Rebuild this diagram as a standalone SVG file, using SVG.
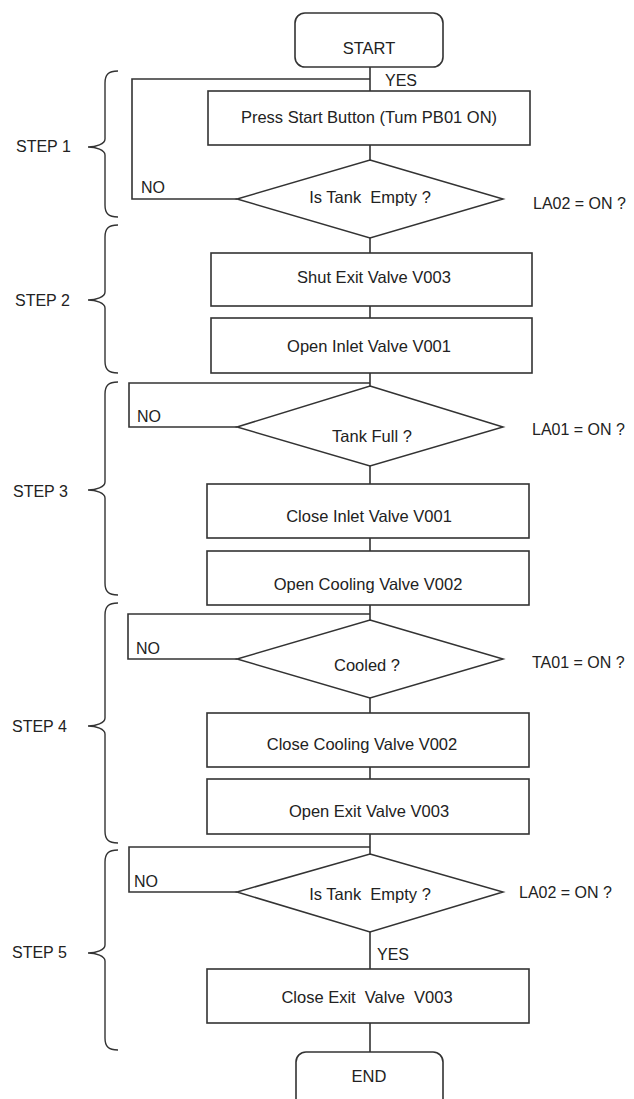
<svg xmlns="http://www.w3.org/2000/svg" width="634" height="1099" viewBox="0 0 634 1099">
<style>
  .box { fill: #ffffff; stroke: #333333; stroke-width: 1.6; }
  .dia { fill: #ffffff; stroke: #333333; stroke-width: 1.5; }
  .ln { fill: none; stroke: #333333; stroke-width: 1.6; }
  .brace { fill: none; stroke: #333333; stroke-width: 1.4; }
  text { font-family: "Liberation Sans", Arial, sans-serif; font-size: 16.5px; fill: #222222; white-space: pre; }
  .c { text-anchor: middle; }
  .s { font-size: 16px; }
</style>
<rect width="634" height="1099" fill="#ffffff"/>

<g id="connectors">
  <line class="ln" x1="370" y1="67" x2="370" y2="91"/>
  <polyline class="ln" points="237,199 132,199 132,79 370,79"/>
  <line class="ln" x1="370" y1="145" x2="370" y2="160"/>
  <line class="ln" x1="370" y1="238" x2="370" y2="253"/>
  <line class="ln" x1="370" y1="306" x2="370" y2="318"/>
  <line class="ln" x1="370" y1="373" x2="370" y2="386"/>
  <polyline class="ln" points="237,427 129,427 129,383 370,383"/>
  <line class="ln" x1="370" y1="466" x2="370" y2="484"/>
  <line class="ln" x1="370" y1="538" x2="370" y2="551"/>
  <line class="ln" x1="370" y1="605" x2="370" y2="620"/>
  <polyline class="ln" points="237,659 128,659 128,614 370,614"/>
  <line class="ln" x1="370" y1="698" x2="370" y2="713"/>
  <line class="ln" x1="370" y1="767" x2="370" y2="779"/>
  <line class="ln" x1="370" y1="834" x2="370" y2="854"/>
  <polyline class="ln" points="237,892 129,892 129,847 370,847"/>
  <line class="ln" x1="370" y1="932" x2="370" y2="969"/>
  <line class="ln" x1="370" y1="1023" x2="370" y2="1052"/>
  <text x="385" y="86" class="s">YES</text>
  <text x="141" y="193" class="s">NO</text>
  <text x="137" y="422" class="s">NO</text>
  <text x="136" y="654" class="s">NO</text>
  <text x="134" y="887" class="s">NO</text>
  <text x="377" y="960" class="s">YES</text>
</g>

<g id="start">
  <rect class="box" x="295" y="13" width="148" height="54" rx="10"/>
  <text x="369" y="54" class="c">START</text>
</g>

<g id="press-start">
  <rect class="box" x="208" y="91" width="322" height="54"/>
  <text x="369" y="123" class="c">Press Start Button (Tum PB01 ON)</text>
</g>

<g id="tank-empty-1">
  <polygon class="dia" points="370,160 503,199 370,238 237,199"/>
  <text x="370" y="203" class="c">Is Tank  Empty ?</text>
  <text x="533" y="209" class="s">LA02 = ON ?</text>
</g>

<g id="shut-exit">
  <rect class="box" x="211" y="253" width="321" height="53"/>
  <text x="374" y="283" class="c">Shut Exit Valve V003</text>
</g>

<g id="open-inlet">
  <rect class="box" x="211" y="318" width="321" height="55"/>
  <text x="369" y="352" class="c">Open Inlet Valve V001</text>
</g>

<g id="tank-full">
  <polygon class="dia" points="370,386 503,427 370,466 237,427"/>
  <text x="372" y="442" class="c">Tank Full ?</text>
  <text x="532" y="435" class="s">LA01 = ON ?</text>
</g>

<g id="close-inlet">
  <rect class="box" x="207" y="484" width="322" height="54"/>
  <text x="369" y="522" class="c">Close Inlet Valve V001</text>
</g>

<g id="open-cooling">
  <rect class="box" x="207" y="551" width="322" height="54"/>
  <text x="368" y="590" class="c">Open Cooling Valve V002</text>
</g>

<g id="cooled">
  <polygon class="dia" points="370,620 503,659 370,698 237,659"/>
  <text x="367" y="671" class="c">Cooled ?</text>
  <text x="532" y="668" class="s">TA01 = ON ?</text>
</g>

<g id="close-cooling">
  <rect class="box" x="207" y="713" width="322" height="54"/>
  <text x="362" y="750" class="c">Close Cooling Valve V002</text>
</g>

<g id="open-exit">
  <rect class="box" x="207" y="779" width="322" height="55"/>
  <text x="369" y="817" class="c">Open Exit Valve V003</text>
</g>

<g id="tank-empty-2">
  <polygon class="dia" points="370,854 503,892 370,932 237,892"/>
  <text x="370" y="900" class="c">Is Tank  Empty ?</text>
  <text x="519" y="898" class="s">LA02 = ON ?</text>
</g>

<g id="close-exit">
  <rect class="box" x="207" y="969" width="322" height="54"/>
  <text x="367" y="1003" class="c">Close Exit  Valve  V003</text>
</g>

<g id="end">
  <rect class="box" x="296" y="1052" width="147" height="60" rx="10"/>
  <text x="369" y="1082" class="c">END</text>
</g>

<g id="step1">
  <path class="brace" d="M118,71 C108,71 105,75 105,83 L105,139 C105,144 96,147 88,147 C96,147 105,150 105,155 L105,205 C105,213 108,217 118,217"/>
  <text x="16" y="152" class="s">STEP 1</text>
</g>
<g id="step2">
  <path class="brace" d="M118,225 C108,225 105,229 105,237 L105,292 C105,297 96,300 88,300 C96,300 105,303 105,308 L105,361 C105,369 108,373 118,373"/>
  <text x="15" y="306" class="s">STEP 2</text>
</g>
<g id="step3">
  <path class="brace" d="M118,382 C108,382 105,386 105,394 L105,482 C105,487 96,490 88,490 C96,490 105,493 105,498 L105,583 C105,591 108,595 118,595"/>
  <text x="13" y="497" class="s">STEP 3</text>
</g>
<g id="step4">
  <path class="brace" d="M118,603 C108,603 105,607 105,615 L105,718 C105,723 96,726 88,726 C96,726 105,729 105,734 L105,831 C105,839 108,843 118,843"/>
  <text x="12" y="732" class="s">STEP 4</text>
</g>
<g id="step5">
  <path class="brace" d="M118,850 C108,850 105,854 105,862 L105,945 C105,950 96,953 88,953 C96,953 105,956 105,961 L105,1038 C105,1046 108,1050 118,1050"/>
  <text x="12" y="958" class="s">STEP 5</text>
</g>
</svg>
